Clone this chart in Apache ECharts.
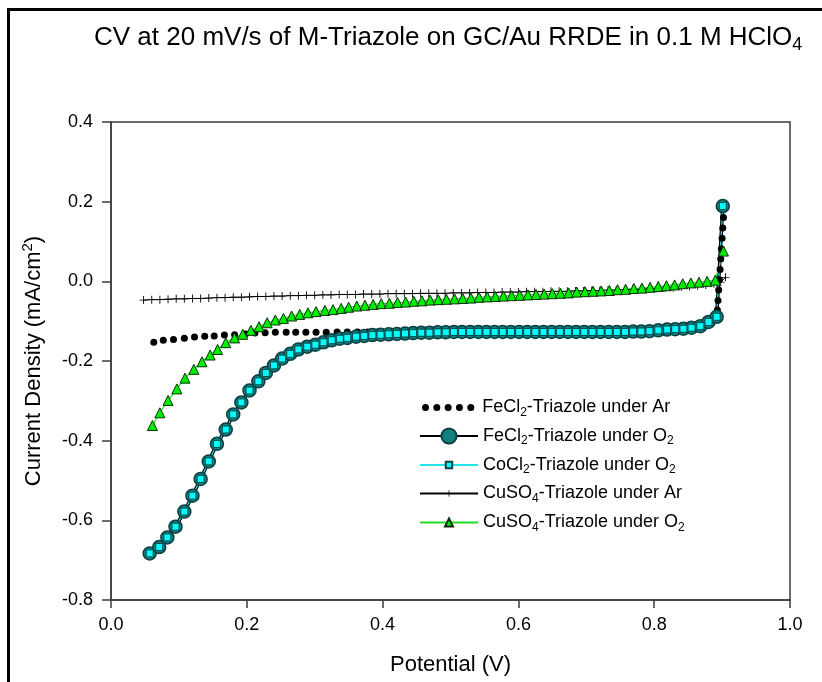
<!DOCTYPE html>
<html>
<head>
<meta charset="utf-8">
<script src="https://cdn.jsdelivr.net/npm/echarts@6/dist/echarts.min.js"></script>
<style>
html,body{margin:0;padding:0;background:#fff;}
#chart{width:822px;height:682px;}
</style>
</head>
<body>
<div id="chart"></div>
<script>
// ---- data ----
const seriesNames = [
  'FeCl2-Triazole under Ar',
  'FeCl2-Triazole under O2',
  'CoCl2-Triazole under O2',
  'CuSO4-Triazole under Ar',
  'CuSO4-Triazole under O2'
];
const legendLabels = [
  '{t|FeCl}{s|2}{t|-Triazole under Ar}',
  '{t|FeCl}{s|2}{t|-Triazole under O}{s|2}',
  '{t|CoCl}{s|2}{t|-Triazole under O}{s|2}',
  '{t|CuSO}{s|4}{t|-Triazole under Ar}',
  '{t|CuSO}{s|4}{t|-Triazole under O}{s|2}'
];
const xTicks = [0.0, 0.2, 0.4, 0.6, 0.8, 1.0];
const yTicks = [-0.8, -0.6, -0.4, -0.2, 0.0, 0.2, 0.4];

const feAr = [[0.063,-0.153],[0.077,-0.148],[0.092,-0.146],[0.108,-0.143],[0.123,-0.140],[0.138,-0.138],[0.152,-0.137],[0.167,-0.135],[0.182,-0.134],[0.198,-0.132],[0.212,-0.130],[0.227,-0.129],[0.242,-0.128],[0.258,-0.128],[0.272,-0.128],[0.287,-0.128],[0.302,-0.128],[0.317,-0.128],[0.333,-0.127],[0.348,-0.127],[0.363,-0.127],[0.378,-0.127],[0.393,-0.127],[0.408,-0.127],[0.423,-0.127],[0.438,-0.127],[0.453,-0.127],[0.468,-0.127],[0.483,-0.127],[0.498,-0.127],[0.513,-0.127],[0.528,-0.127],[0.543,-0.127],[0.558,-0.127],[0.573,-0.127],[0.588,-0.127],[0.603,-0.127],[0.618,-0.127],[0.633,-0.127],[0.648,-0.127],[0.663,-0.127],[0.678,-0.127],[0.693,-0.127],[0.708,-0.127],[0.723,-0.127],[0.738,-0.127],[0.753,-0.127],[0.768,-0.127],[0.783,-0.126],[0.798,-0.125],[0.813,-0.123],[0.828,-0.121],[0.843,-0.119],[0.858,-0.115],[0.873,-0.108],[0.886,-0.095],[0.893,-0.072],[0.894,-0.048],[0.895,-0.022],[0.896,0.004],[0.897,0.030],[0.898,0.056],[0.899,0.082],[0.900,0.108],[0.901,0.134],[0.902,0.160]];

const feO2 = [[0.057,-0.683],[0.071,-0.667],[0.083,-0.643],[0.095,-0.616],[0.108,-0.578],[0.120,-0.538],[0.132,-0.496],[0.144,-0.452],[0.156,-0.408],[0.169,-0.372],[0.180,-0.334],[0.192,-0.304],[0.204,-0.274],[0.217,-0.251],[0.228,-0.230],[0.240,-0.211],[0.252,-0.194],[0.264,-0.182],[0.276,-0.171],[0.289,-0.164],[0.301,-0.159],[0.313,-0.153],[0.325,-0.148],[0.337,-0.144],[0.348,-0.142],[0.361,-0.139],[0.373,-0.137],[0.385,-0.135],[0.397,-0.134],[0.409,-0.133],[0.421,-0.132],[0.433,-0.131],[0.445,-0.130],[0.457,-0.129],[0.469,-0.129],[0.481,-0.128],[0.493,-0.128],[0.505,-0.127],[0.517,-0.127],[0.529,-0.127],[0.541,-0.127],[0.553,-0.127],[0.565,-0.127],[0.577,-0.127],[0.589,-0.127],[0.601,-0.127],[0.613,-0.127],[0.625,-0.127],[0.637,-0.127],[0.649,-0.127],[0.661,-0.127],[0.673,-0.127],[0.685,-0.127],[0.697,-0.127],[0.709,-0.127],[0.721,-0.127],[0.733,-0.127],[0.745,-0.127],[0.757,-0.127],[0.769,-0.126],[0.781,-0.126],[0.793,-0.125],[0.806,-0.123],[0.819,-0.121],[0.831,-0.120],[0.843,-0.119],[0.855,-0.1165],[0.868,-0.1125],[0.880,-0.102],[0.892,-0.089],[0.901,0.189]];

const coO2 = [[0.057,-0.683],[0.071,-0.667],[0.083,-0.643],[0.095,-0.616],[0.108,-0.578],[0.120,-0.538],[0.132,-0.496],[0.144,-0.452],[0.156,-0.408],[0.169,-0.372],[0.180,-0.334],[0.192,-0.304],[0.204,-0.274],[0.217,-0.251],[0.228,-0.230],[0.240,-0.211],[0.252,-0.194],[0.264,-0.182],[0.276,-0.171],[0.289,-0.164],[0.301,-0.159],[0.313,-0.153],[0.325,-0.148],[0.337,-0.144],[0.348,-0.142],[0.361,-0.139],[0.373,-0.137],[0.385,-0.135],[0.397,-0.134],[0.409,-0.133],[0.421,-0.132],[0.433,-0.131],[0.445,-0.130],[0.457,-0.129],[0.469,-0.129],[0.481,-0.128],[0.493,-0.128],[0.505,-0.127],[0.517,-0.127],[0.529,-0.127],[0.541,-0.127],[0.553,-0.127],[0.565,-0.127],[0.577,-0.127],[0.589,-0.127],[0.601,-0.127],[0.613,-0.127],[0.625,-0.127],[0.637,-0.127],[0.649,-0.127],[0.661,-0.127],[0.673,-0.127],[0.685,-0.127],[0.697,-0.127],[0.709,-0.127],[0.721,-0.127],[0.733,-0.127],[0.745,-0.127],[0.757,-0.127],[0.769,-0.126],[0.781,-0.126],[0.793,-0.125],[0.806,-0.123],[0.819,-0.121],[0.831,-0.120],[0.843,-0.119],[0.855,-0.1165],[0.868,-0.1125],[0.880,-0.102],[0.892,-0.089],[0.901,0.189]];

const cuAr = [[0.048,-0.047],[0.060,-0.046],[0.072,-0.046],[0.084,-0.045],[0.096,-0.044],[0.108,-0.044],[0.120,-0.043],[0.132,-0.043],[0.144,-0.042],[0.156,-0.041],[0.168,-0.041],[0.180,-0.040],[0.192,-0.040],[0.204,-0.039],[0.216,-0.038],[0.228,-0.038],[0.240,-0.037],[0.252,-0.037],[0.264,-0.036],[0.276,-0.036],[0.288,-0.035],[0.300,-0.035],[0.312,-0.034],[0.324,-0.034],[0.336,-0.033],[0.348,-0.033],[0.360,-0.033],[0.372,-0.032],[0.384,-0.032],[0.396,-0.032],[0.408,-0.031],[0.420,-0.031],[0.432,-0.031],[0.444,-0.031],[0.456,-0.030],[0.468,-0.030],[0.480,-0.030],[0.492,-0.030],[0.504,-0.029],[0.516,-0.029],[0.528,-0.029],[0.540,-0.028],[0.552,-0.028],[0.564,-0.028],[0.576,-0.027],[0.588,-0.027],[0.600,-0.027],[0.612,-0.026],[0.624,-0.026],[0.636,-0.026],[0.648,-0.025],[0.660,-0.025],[0.672,-0.025],[0.684,-0.024],[0.696,-0.024],[0.708,-0.023],[0.720,-0.023],[0.732,-0.022],[0.744,-0.022],[0.756,-0.021],[0.768,-0.020],[0.780,-0.020],[0.792,-0.019],[0.804,-0.018],[0.816,-0.017],[0.828,-0.016],[0.840,-0.014],[0.852,-0.013],[0.864,-0.011],[0.876,-0.009],[0.888,-0.006],[0.898,-0.002],[0.905,0.010]];

const cuO2 = [[0.061,-0.362],[0.072,-0.330],[0.084,-0.299],[0.097,-0.270],[0.109,-0.243],[0.122,-0.221],[0.134,-0.202],[0.146,-0.185],[0.157,-0.171],[0.169,-0.154],[0.182,-0.142],[0.194,-0.133],[0.206,-0.123],[0.218,-0.114],[0.230,-0.104],[0.242,-0.097],[0.254,-0.093],[0.266,-0.087],[0.278,-0.083],[0.290,-0.079],[0.302,-0.076],[0.315,-0.073],[0.327,-0.071],[0.339,-0.068],[0.350,-0.065],[0.362,-0.062],[0.374,-0.060],[0.386,-0.058],[0.398,-0.056],[0.410,-0.055],[0.422,-0.053],[0.434,-0.052],[0.446,-0.050],[0.458,-0.049],[0.470,-0.047],[0.482,-0.046],[0.494,-0.045],[0.506,-0.044],[0.518,-0.043],[0.530,-0.042],[0.542,-0.040],[0.554,-0.039],[0.566,-0.038],[0.578,-0.037],[0.590,-0.036],[0.602,-0.035],[0.614,-0.034],[0.626,-0.033],[0.638,-0.032],[0.650,-0.031],[0.662,-0.030],[0.674,-0.029],[0.686,-0.027],[0.698,-0.026],[0.710,-0.025],[0.722,-0.024],[0.734,-0.023],[0.746,-0.021],[0.758,-0.020],[0.770,-0.018],[0.782,-0.017],[0.794,-0.015],[0.806,-0.013],[0.818,-0.011],[0.830,-0.009],[0.842,-0.006],[0.854,-0.004],[0.866,-0.002],[0.878,0.000],[0.890,0.003],[0.902,0.076]];

// ---- chart ----
const FONT = '"Liberation Sans", Arial, sans-serif';
const plusPath = 'path://M0,4.5L9,4.5L9,5.5L0,5.5Z M4,0L5,0L5,10L4,10Z';
const dotsPath = 'path://M0,4a3.4,3.4 0 1,0 6.8,0a3.4,3.4 0 1,0 -6.8,0Z M11,4a3.4,3.4 0 1,0 6.8,0a3.4,3.4 0 1,0 -6.8,0Z M22,4a3.4,3.4 0 1,0 6.8,0a3.4,3.4 0 1,0 -6.8,0Z M33,4a3.4,3.4 0 1,0 6.8,0a3.4,3.4 0 1,0 -6.8,0Z M44,4a3.4,3.4 0 1,0 6.8,0a3.4,3.4 0 1,0 -6.8,0Z';

const chart = echarts.init(document.getElementById('chart'), null, {renderer: 'canvas'});

const richText = {
  t: {fontSize: 18, fontFamily: FONT, color: '#000', lineHeight: 20},
  s: {fontSize: 12, fontFamily: FONT, color: '#000', lineHeight: 10, padding: [10, 0, 0, 0]}
};
const legendCenters = [406.5, 435, 464, 492.5, 521.5];
const legendHeights = [7, 19, 8, 8, 10];
const legendLefts = [422, 419, 419, 419, 419];
const legends = seriesNames.map((name, i) => ({
  left: legendLefts[i],
  top: legendCenters[i] - 10,
  padding: 0,
  orient: 'vertical',
  selectedMode: false,
  itemWidth: 58,
  itemHeight: legendHeights[i],
  data: [i === 0 ? {name: name, icon: dotsPath} : name],
  formatter: () => legendLabels[i],
  textStyle: {fontSize: 18, fontFamily: FONT, color: '#000', rich: richText}
}));

const axisCol = '#3c3c3c';
const option = {
  animation: false,
  backgroundColor: '#fff',
  title: {
    text: 'CV at 20 mV/s of M-Triazole on GC/Au RRDE in 0.1 M HClO{s|4}',
    left: 94,
    top: 23,
    padding: 0,
    textStyle: {
      fontSize: 26, fontWeight: 'normal', color: '#000', fontFamily: FONT, lineHeight: 30,
      rich: {s: {fontSize: 18, fontFamily: FONT, color: '#000', lineHeight: 15, padding: [15, 0, 0, 0]}}
    }
  },
  graphic: [{
    type: 'rect', silent: true, z: 100,
    shape: {x: 8.5, y: 9.5, width: 900, height: 800},
    style: {fill: 'none', stroke: '#000', lineWidth: 3}
  }],
  legend: legends,
  grid: {left: 111, right: 32, top: 122, bottom: 82, show: true, borderColor: axisCol, borderWidth: 1.5, containLabel: false},
  xAxis: {
    type: 'value', min: xTicks[0], max: xTicks[xTicks.length - 1], interval: 0.2,
    name: 'Potential (V)', nameLocation: 'middle', nameGap: 54,
    nameTextStyle: {fontSize: 22, fontFamily: FONT, color: '#000'},
    axisLine: {show: true, onZero: false, lineStyle: {color: axisCol, width: 1.5}},
    axisTick: {show: true, inside: false, length: 8, lineStyle: {color: axisCol, width: 1.5}},
    axisLabel: {margin: 16, fontSize: 18, fontFamily: FONT, color: '#000', formatter: v => v.toFixed(1)},
    splitLine: {show: false}
  },
  yAxis: {
    type: 'value', min: yTicks[0], max: yTicks[yTicks.length - 1], interval: 0.2,
    name: 'Current Density (mA/cm{p|2})', nameLocation: 'middle', nameGap: 64, nameRotate: 90,
    nameTextStyle: {fontSize: 22, fontFamily: FONT, color: '#000', lineHeight: 26,
      rich: {p: {fontSize: 15, fontFamily: FONT, color: '#000', lineHeight: 13, padding: [0, 0, 13, 0]}}},
    axisLine: {show: true, onZero: false, lineStyle: {color: axisCol, width: 1.5}},
    axisTick: {show: true, inside: false, length: 9, lineStyle: {color: axisCol, width: 1.5}},
    axisLabel: {margin: 18, fontSize: 18, fontFamily: FONT, color: '#000', formatter: v => v.toFixed(1)},
    splitLine: {show: false}
  },
  series: [
    {
      name: seriesNames[0], type: 'line', data: feAr, showAllSymbol: true,
      symbol: 'circle', symbolSize: 7,
      lineStyle: {width: 0, opacity: 0},
      itemStyle: {color: '#000', borderWidth: 0}
    },
    {
      name: seriesNames[1], type: 'line', data: feO2, showAllSymbol: true,
      symbol: 'circle', symbolSize: 13,
      lineStyle: {width: 3.5, color: '#000'},
      itemStyle: {color: '#137f80', borderColor: '#0a3f40', borderWidth: 1.5}
    },
    {
      name: seriesNames[2], type: 'line', data: coO2, showAllSymbol: true,
      symbol: 'rect', symbolSize: 7,
      lineStyle: {width: 1.2, color: '#22e6ea'},
      itemStyle: {color: '#00ffff', borderColor: '#0b4546', borderWidth: 1}
    },
    {
      name: seriesNames[3], type: 'line', data: cuAr, showAllSymbol: true,
      symbol: plusPath, symbolSize: [8, 8],
      lineStyle: {width: 1, color: '#000'},
      itemStyle: {color: '#000', borderWidth: 0}
    },
    {
      name: seriesNames[4], type: 'line', data: cuO2, showAllSymbol: true,
      symbol: 'triangle', symbolSize: 10,
      lineStyle: {width: 1.2, color: '#22dd22'},
      itemStyle: {color: '#00ee00', borderColor: '#0a300a', borderWidth: 1}
    }
  ]
};
chart.setOption(option);
</script>
</body>
</html>
